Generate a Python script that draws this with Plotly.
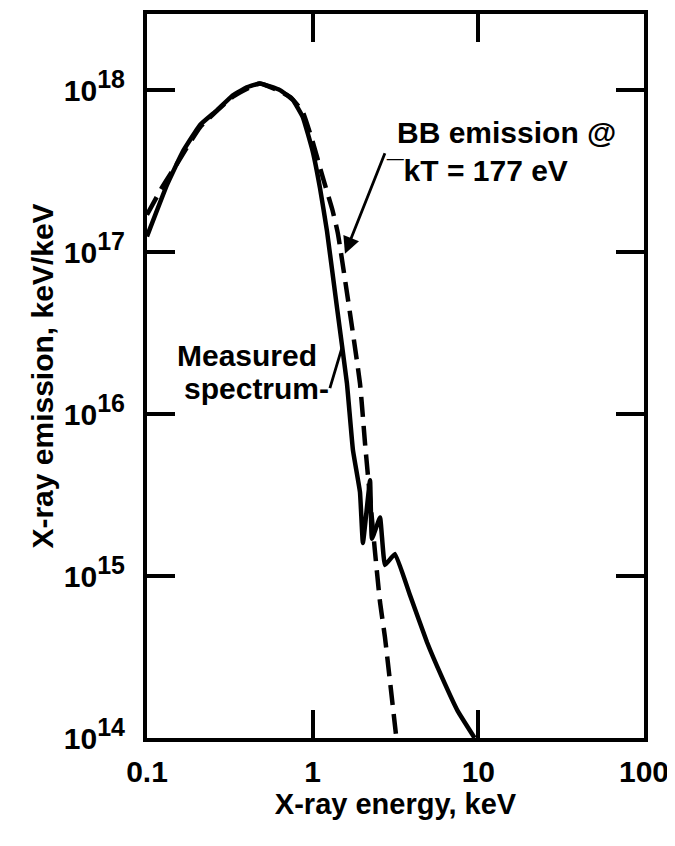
import plotly.graph_objects as go

# Measured spectrum (solid)
measured_energy_kev = [0.1, 0.132, 0.165, 0.209, 0.264, 0.33, 0.40, 0.48, 0.635, 0.76, 0.873,
                       1.0, 1.106, 1.22, 1.4, 1.61, 1.75, 1.93, 2.01, 2.22, 2.28, 2.55, 2.73,
                       3.14, 3.87, 4.9, 6.0, 7.5, 9.5]
measured_emission = [1.25e17, 2.6e17, 4.2e17, 6.1e17, 7.5e17, 9.3e17, 1.04e18, 1.1e18, 1.0e18,
                     8.7e17, 6.8e17, 4.2e17, 2.5e17, 1.35e17, 4.6e16, 1.55e16, 6.0e15, 3.3e15,
                     1.6e15, 3.9e15, 1.7e15, 2.3e15, 1.17e15, 1.37e15, 7.6e14, 3.9e14, 2.4e14,
                     1.47e14, 1.0e14]

# Blackbody emission @ kT = 177 eV (dashed)
bb_energy_kev = [0.1, 0.123, 0.154, 0.209, 0.33, 0.48, 0.73, 0.873, 1.0, 1.15, 1.32, 1.42,
                 1.93, 2.07, 2.16, 2.38, 2.55, 2.73, 3.2]
bb_emission = [1.7e17, 2.5e17, 3.6e17, 5.9e17, 9.1e17, 1.1e18, 9.1e17, 7.3e17, 4.8e17, 2.9e17,
               1.8e17, 1.3e17, 1.55e16, 6.6e15, 4.1e15, 1.4e15, 6.9e14, 4.2e14, 1.0e14]

x_tickvals = [0.1, 1, 10, 100]
x_ticktext = ["0.1", "1", "10", "100"]
y_tickvals = [1e14, 1e15, 1e16, 1e17, 1e18]
y_exponents = ["14", "15", "16", "17", "18"]

bb_label_lines = ["BB emission @", "kT = 177 eV"]
measured_label_lines = ["Measured", "spectrum"]

FONT = "Liberation Sans"

y_ticktext = ["10<sup><span style='font-size:25px'>%s</span></sup>" % e for e in y_exponents]

fig = go.Figure()
fig.add_trace(go.Scatter(x=bb_energy_kev, y=bb_emission, mode="lines",
                         line=dict(color="black", width=4.5, dash="20px,9px", shape="spline", smoothing=0.4),
                         hoverinfo="skip", showlegend=False))
fig.add_trace(go.Scatter(x=measured_energy_kev, y=measured_emission, mode="lines",
                         line=dict(color="black", width=4.5, shape="spline", smoothing=0.3),
                         hoverinfo="skip", showlegend=False))

axis_common = dict(type="log", showgrid=False, zeroline=False, showline=True, linecolor="black",
                   linewidth=4, mirror="ticks", ticks="inside", ticklen=28, tickwidth=4,
                   tickcolor="black", minor=dict(ticks=""))

fig.update_xaxes(range=[-1, 2], tickvals=x_tickvals, ticktext=x_ticktext,
                 tickfont=dict(family=FONT, size=30, color="black", weight="bold"),
                 ticklabelstandoff=4,
                 title=dict(text="X-ray energy, keV", standoff=4,
                            font=dict(family=FONT, size=29, color="black", weight="bold")),
                 **axis_common)
fig.update_yaxes(range=[14, 18.47], tickvals=y_tickvals, ticktext=y_ticktext,
                 tickfont=dict(family=FONT, size=30, color="black", weight="bold"),
                 ticklabelstandoff=12,
                 title=dict(text="X-ray emission, keV/keV", standoff=2,
                            font=dict(family=FONT, size=30, color="black", weight="bold")),
                 **axis_common)

label_font = dict(family=FONT, size=30, color="black", weight="bold")
# (annotation positions are in log10 units of the log axes)
# BB label, first line
fig.add_annotation(x=0.497, y=17.74, xref="x", yref="y", text=bb_label_lines[0],
                   showarrow=False, xanchor="left", yanchor="middle", font=label_font)
# BB label, second line (with its hooked leader) and arrow down to the dashed curve
fig.add_annotation(x=0.195, y=16.99, xref="x", yref="y", ax=0.436, ay=17.61, axref="x", ayref="y",
                   text="\u00af" + bb_label_lines[1], xanchor="left", yanchor="top", font=label_font,
                   borderpad=0,
                   showarrow=True, arrowhead=2, arrowsize=1.2, arrowwidth=2.8, arrowcolor="black")
# Measured label
fig.add_annotation(x=-0.83, y=16.36, xref="x", yref="y", text=measured_label_lines[0],
                   showarrow=False, xanchor="left", yanchor="middle", font=label_font)
fig.add_annotation(x=0.177, y=16.41, xref="x", yref="y", ax=0.104, ay=16.16, axref="x", ayref="y",
                   text=measured_label_lines[1] + "-", xanchor="right", yanchor="middle", font=label_font,
                   borderpad=0,
                   showarrow=True, arrowhead=0, arrowwidth=2.8, arrowcolor="black")

# the page body has an 8px default margin, so the figure is sized to fit the 675x846 window
fig.update_layout(width=667, height=838, margin=dict(l=139, r=31, t=2, b=108),
                  plot_bgcolor="white", paper_bgcolor="white")

fig.write_html("out.html")
